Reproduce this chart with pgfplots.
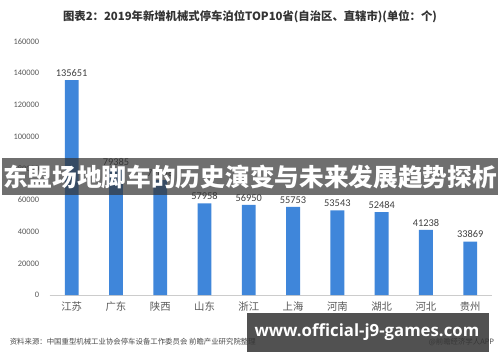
\documentclass[border=0pt]{standalone}
\usepackage{pgfplots}
\pgfplotsset{compat=1.18}
\usepackage{fontspec}
\setmainfont{Carlito}
\newfontfamily\cjk{Noto Sans CJK SC}
\newfontfamily\webfont{Open Sans}
\definecolor{barblue}{HTML}{3F86DA}
\definecolor{txtgray}{HTML}{595959}
\begin{document}
\begin{tikzpicture}[x=1bp,y=1bp]
\fill[white] (0,0) rectangle (500,362);
\begin{axis}[
  at={(70bp,64bp)}, anchor=origin,
  scale only axis, width=447bp, height=256bp,
  xmin=-0.5, xmax=9.5, ymin=0, ymax=160000,
  axis x line=bottom, axis y line=left,
  axis line style={draw=none},
  clip=false,
  scaled y ticks=false,
  ytick={0,20000,40000,60000,80000,100000,120000,140000,160000},
  yticklabels={0,20000,40000,60000,80000,100000,120000,140000,160000},
  xtick={0,...,9},
  xticklabels={江苏,广东,陕西,山东,浙江,上海,河南,湖北,河北,贵州},
  yticklabel style={font=\fontsize{8.5}{9}\selectfont, text=txtgray, anchor=east, xshift=-7bp},
  xticklabel style={font=\cjk\fontsize{10.5}{12}\selectfont, text=txtgray, yshift=-3bp},
  major tick length=0pt,
  point meta=explicit symbolic,
  nodes near coords,
  nodes near coords style={font=\fontsize{10.5}{12}\selectfont, text=black!75},
]
\draw[gray!40] (axis cs:-0.5,0) -- (axis cs:9.5,0);
\addplot[ybar, bar width=14bp, fill=barblue, draw=none] coordinates {
(0,135651) [135651] (1,79385) [79385] (2,72648) [72648] (3,57958) [57958] (4,56950) [56950] (5,55753) [55753] (6,53543) [53543] (7,52484) [52484] (8,41238) [41238] (9,33869) [33869]};
\end{axis}
\node[font=\cjk\bfseries\fontsize{11.5}{13}\selectfont, text=black!80] at (250,345) {图表2：2019年新增机械式停车泊位TOP10省(自治区、直辖市)(单位：个)};
\node[font=\cjk\fontsize{7.5}{9}\selectfont, text=black!70, anchor=west] at (4,17) {资料来源：中国重型机械工业协会停车设备工作委员会 前瞻产业研究院整理};
\node[font=\cjk\fontsize{7.5}{9}\selectfont, text=black!70, anchor=east] at (500,17) {@前瞻经济学人APP};
\fill[black!80, opacity=0.7] (0,165) rectangle (500,202);
\node[font=\cjk\bfseries\fontsize{25}{28}\selectfont, text=white] at (250,183.5) {东盟场地脚车的历史演变与未来发展趋势探析};
\fill[black!80, opacity=0.85] (247,7) rectangle (491,46);
\node[font=\webfont\bfseries\fontsize{17}{19}\selectfont, text=white] at (368,27) {www.official-j9-games.com};
\end{tikzpicture}
\end{document}
